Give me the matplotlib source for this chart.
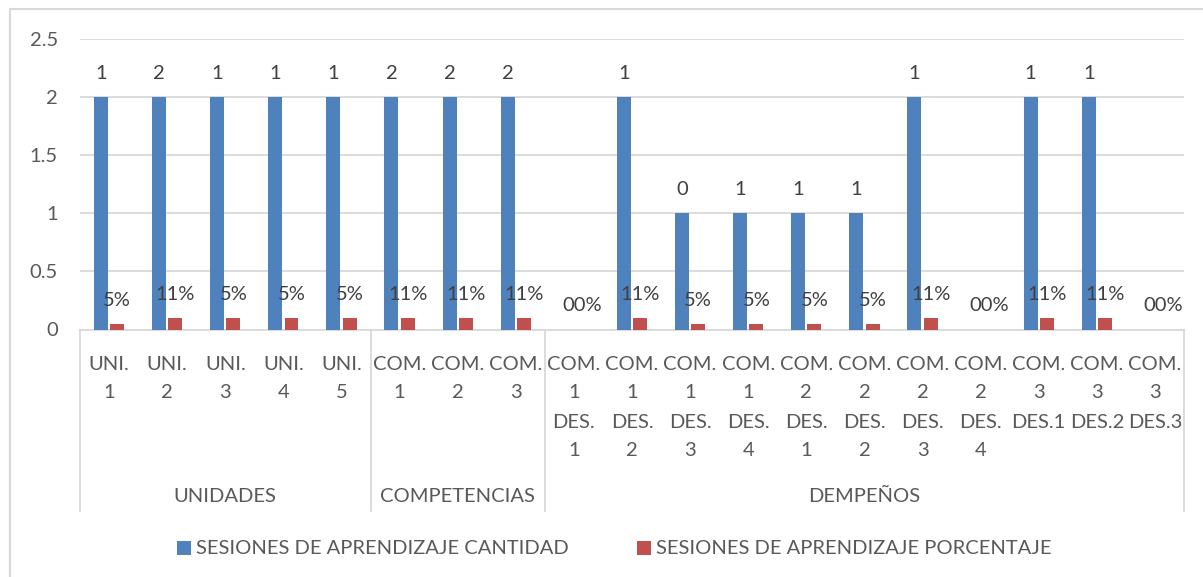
import matplotlib
matplotlib.use("Agg")
import matplotlib.pyplot as plt
from matplotlib.patches import Rectangle
from matplotlib.lines import Line2D

categories = ["UNI.\n1", "UNI.\n2", "UNI.\n3", "UNI.\n4", "UNI.\n5",
              "COM.\n1", "COM.\n2", "COM.\n3",
              "COM.\n1\nDES.\n1", "COM.\n1\nDES.\n2", "COM.\n1\nDES.\n3", "COM.\n1\nDES.\n4",
              "COM.\n2\nDES.\n1", "COM.\n2\nDES.\n2", "COM.\n2\nDES.\n3", "COM.\n2\nDES.\n4",
              "COM.\n3\nDES.1", "COM.\n3\nDES.2", "COM.\n3\nDES.3"]
groups = ["UNIDADES", "COMPETENCIAS", "DEMPEÑOS"]
group_sizes = [5, 3, 11]

cantidad = [2, 2, 2, 2, 2, 2, 2, 2, 0, 2, 1, 1, 1, 1, 2, 0, 2, 2, 0]
cantidad_labels = ["1", "2", "1", "1", "1", "2", "2", "2", "", "1", "0", "1", "1", "1", "1", "", "1", "1", ""]
porcentaje = [0.05, 0.1, 0.1, 0.1, 0.1, 0.1, 0.1, 0.1, 0, 0.1, 0.05, 0.05, 0.05, 0.05, 0.1, 0, 0.1, 0.1, 0]
porcentaje_labels = ["5%", "11%", "5%", "5%", "5%", "11%", "11%", "11%", "00%", "11%", "5%", "5%", "5%", "5%",
                     "11%", "00%", "11%", "11%", "00%"]
series_names = ["SESIONES DE APRENDIZAJE CANTIDAD", "SESIONES DE APRENDIZAJE PORCENTAJE"]
yticks = [0, 0.5, 1, 1.5, 2, 2.5]

BLUE = "#4F81BD"
RED = "#C0504D"
TXT = "#595959"
GRID = "#D9D9D9"
FONT = "Lato"
FS = 14.5

W, H = 1203, 577
fig = plt.figure(figsize=(W / 100, H / 100), dpi=100)
L, R, B, T = 80, 1184, 329.5, 38.5
ax = fig.add_axes([L / W, 1 - B / H, (R - L) / W, (B - T) / H])

n = len(categories)
x = list(range(n))
bw = 0.24
off = 0.14
ax.bar([i - off for i in x], cantidad, width=bw, color=BLUE, zorder=3)
ax.bar([i + off for i in x], porcentaje, width=bw, color=RED, zorder=3)

for i in x:
    if cantidad_labels[i]:
        ax.annotate(cantidad_labels[i], (i - off, cantidad[i]), xytext=(0, 17), textcoords="offset points",
                    ha="center", va="center", fontsize=FS, color="#404040", family=FONT)
    if porcentaje_labels[i]:
        ax.annotate(porcentaje_labels[i], (i + off, porcentaje[i]), xytext=(0, 17), textcoords="offset points",
                    ha="center", va="center", fontsize=FS, color="#404040", family=FONT)

ax.set_xlim(-0.5, n - 0.5)
ax.set_ylim(0, 2.5)
ax.set_yticks(yticks)
ax.set_yticklabels([f"{v:g}" for v in yticks], fontsize=FS, color=TXT, family=FONT)
ax.tick_params(axis="y", length=0, pad=16)
ax.set_xticks([])
for s in ax.spines.values():
    s.set_visible(False)
ax.grid(axis="y", color=GRID, lw=1.3, zorder=0)
ax.set_axisbelow(True)

ax_h = B - T
def yfrac(py):
    return (B - py) / ax_h

xt = ax.get_xaxis_transform()
# axis baseline
ax.plot([-0.5, n - 0.5], [0, 0], color=GRID, lw=1.3, zorder=2, clip_on=False)

# category labels
for i, lab in enumerate(categories):
    for j, line in enumerate(lab.split("\n")):
        ax.text(i, yfrac(364 + 29 * j), line, transform=xt, ha="center", va="center",
                fontsize=FS, color=TXT, family=FONT, clip_on=False)

# group separators and labels
start = 0
bounds = [-0.5]
for g, sz in zip(groups, group_sizes):
    ax.text(start + (sz - 1) / 2, yfrac(496), g, transform=xt, ha="center", va="center",
            fontsize=FS, color=TXT, family=FONT, clip_on=False)
    start += sz
    bounds.append(start - 0.5)
for bx in bounds:
    ax.add_line(Line2D([bx, bx], [0, yfrac(511)], transform=xt, color=GRID, lw=1.3, clip_on=False))

# legend
leg_y = 1 - 548 / H
fig.patches.append(Rectangle((177 / W, 1 - 555 / H), 14 / W, 14 / H, transform=fig.transFigure,
                             facecolor=BLUE, edgecolor="none"))
fig.text(196 / W, leg_y, series_names[0], ha="left", va="center", fontsize=FS, color=TXT, family=FONT)
fig.patches.append(Rectangle((637 / W, 1 - 555 / H), 14 / W, 14 / H, transform=fig.transFigure,
                             facecolor=RED, edgecolor="none"))
fig.text(656 / W, leg_y, series_names[1], ha="left", va="center", fontsize=FS, color=TXT, family=FONT)

# chart border
fig.add_artist(Line2D([10 / W, 10 / W], [0, 1 - 9 / H], transform=fig.transFigure, color=GRID, lw=1.5))
fig.add_artist(Line2D([10 / W, 1], [1 - 9 / H, 1 - 9 / H], transform=fig.transFigure, color=GRID, lw=1.5))

fig.savefig("out.png", dpi=100)
